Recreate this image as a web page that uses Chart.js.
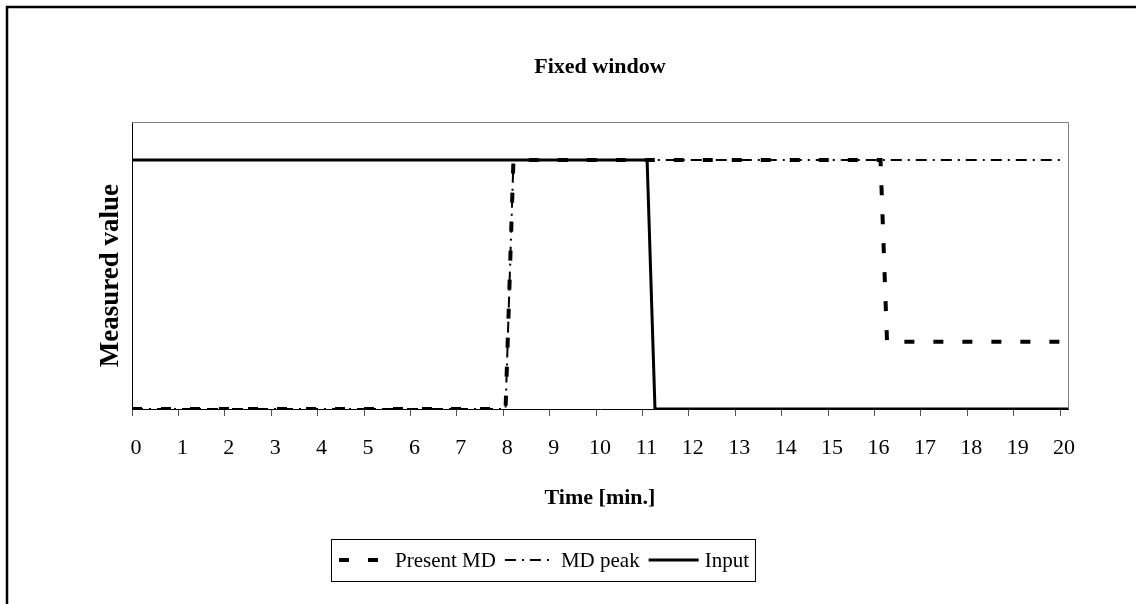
<!DOCTYPE html>
<html lang="en">
<head>
    <meta charset="UTF-8">
    <title>Fixed window</title>
    <style>
        body { margin: 0; background: #fff; }
        canvas { display: block; }
    </style>
</head>
<body>
    <canvas id="mdChart" width="1136" height="604"></canvas>

<script src="https://cdn.jsdelivr.net/npm/chart.js"></script>
<script>
    const presentTime  = [0, 8.05, 8.22, 16.13, 16.27, 20.17];
    const presentValue = [0, 0, 1, 1, 0.27, 0.27];
    const peakTime     = [0, 8.05, 8.22, 20.1];
    const peakValue    = [0, 0, 1, 1];
    const inputTime    = [0, 11.1, 11.27, 20.17];
    const inputValue   = [1, 1, 0, 0];
    const seriesNames  = ["Present MD", "MD peak", "Input"];

    const serif = "'Liberation Serif', 'Times New Roman', serif";

    function points(xs, ys) {
        return xs.map((x, i) => ({ x: x, y: ys[i] }));
    }

    // outer frame, grey top/right of plot, boxed legend
    const framePlugin = {
        id: 'frame',
        beforeDatasetsDraw(chart) {
            const { ctx, chartArea: a } = chart;
            ctx.save();
            ctx.strokeStyle = '#808080';
            ctx.lineWidth = 1;
            ctx.beginPath();
            ctx.moveTo(a.left, a.top + 0.5);
            ctx.lineTo(a.right + 0.5, a.top + 0.5);
            ctx.lineTo(a.right + 0.5, a.bottom);
            ctx.stroke();
            ctx.restore();
        },
        afterDraw(chart) {
            const ctx = chart.ctx;
            ctx.save();
            ctx.strokeStyle = '#000';
            ctx.lineWidth = 2.5;
            ctx.beginPath();
            ctx.moveTo(7, 604);
            ctx.lineTo(7, 7);
            ctx.lineTo(1136, 7);
            ctx.stroke();

            // legend
            ctx.font = '21px ' + serif;
            ctx.textBaseline = 'middle';
            ctx.fillStyle = '#000';
            const boxLeft = 331, boxTop = 539, boxH = 42, midY = boxTop + boxH / 2;
            let x = boxLeft + 8;
            chart.data.datasets.forEach(ds => {
                ctx.save();
                ctx.lineWidth = ds.borderWidth;
                ctx.setLineDash(ds.borderDash || []);
                ctx.beginPath();
                ctx.moveTo(x, midY);
                ctx.lineTo(x + 50, midY);
                ctx.stroke();
                ctx.restore();
                x += 56;
                ctx.fillText(ds.label, x, midY + 1);
                x += ctx.measureText(ds.label).width + 9;
            });
            ctx.lineWidth = 1;
            ctx.setLineDash([]);
            ctx.strokeRect(boxLeft + 0.5, boxTop + 0.5, x - boxLeft - 3, boxH);
            ctx.restore();
        }
    };

    new Chart(document.getElementById('mdChart'), {
        type: 'line',
        data: {
            datasets: [{
                label: seriesNames[0],
                data: points(presentTime, presentValue),
                borderColor: '#000',
                borderWidth: 4,
                borderDash: [10, 19]
            }, {
                label: seriesNames[1],
                data: points(peakTime, peakValue),
                borderColor: '#000',
                borderWidth: 2,
                borderDash: [11, 6, 2, 6]
            }, {
                label: seriesNames[2],
                data: points(inputTime, inputValue),
                borderColor: '#000',
                borderWidth: 3
            }]
        },
        options: {
            responsive: false,
            animation: false,
            clip: 0,
            elements: {
                point: { radius: 0 },
                line: { tension: 0, borderCapStyle: 'butt', fill: false }
            },
            layout: { padding: { left: 0, right: 68, top: 0, bottom: 0 } },
            plugins: {
                legend: { display: false },
                tooltip: { enabled: false },
                title: {
                    display: true,
                    text: 'Fixed window',
                    fullSize: false,
                    color: '#000',
                    font: { family: serif, size: 22, weight: 'bold' },
                    padding: { top: 54, bottom: 41.6 }
                }
            },
            scales: {
                x: {
                    type: 'linear',
                    min: 0,
                    max: 20.17,
                    afterFit(scale) { scale.height = 195; },
                    border: { color: '#000', width: 1 },
                    grid: {
                        drawOnChartArea: false,
                        drawTicks: true,
                        tickLength: 7,
                        color: '#555'
                    },
                    ticks: {
                        stepSize: 1,
                        includeBounds: false,
                        maxRotation: 0,
                        autoSkip: false,
                        labelOffset: 4,
                        padding: 19,
                        color: '#000',
                        font: { family: serif, size: 22 }
                    },
                    title: {
                        display: true,
                        text: 'Time [min.]',
                        color: '#000',
                        font: { family: serif, size: 22, weight: 'bold' },
                        padding: { top: 0, bottom: 92 }
                    }
                },
                y: {
                    min: 0,
                    max: 1.1526,
                    afterFit(scale) { scale.width = 132; },
                    border: { color: '#000', width: 1 },
                    grid: { display: false },
                    ticks: { display: false },
                    title: {
                        display: true,
                        text: 'Measured value   ',
                        color: '#000',
                        font: { family: serif, size: 27, weight: 'bold' },
                        padding: { top: 95, bottom: 0 }
                    }
                }
            }
        },
        plugins: [framePlugin]
    });
</script>
</body>
</html>
